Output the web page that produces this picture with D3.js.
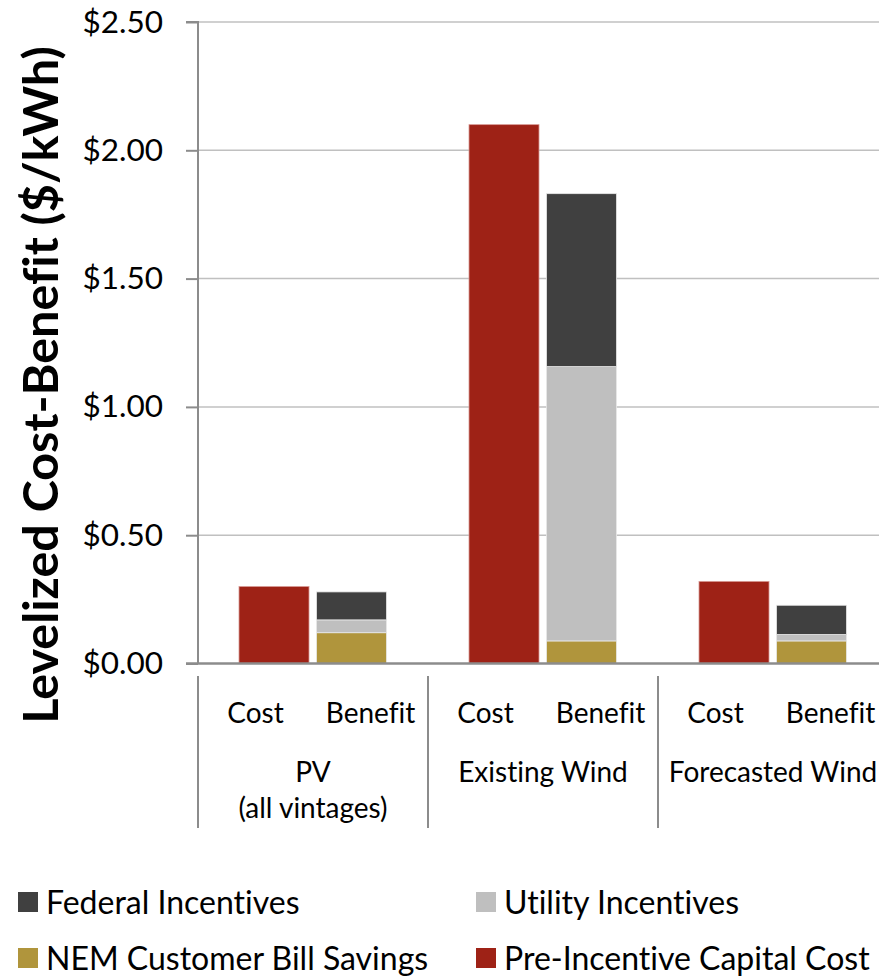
<!DOCTYPE html>
<html><head><meta charset="utf-8">
<script src="https://cdn.jsdelivr.net/npm/d3@7"></script>
<style>body{margin:0;background:#fff;}svg{display:block;font-family:Lato,"Open Sans",sans-serif;font-variant-ligatures:none;}</style>
</head><body><svg id="c" width="879" height="979"></svg>
<script>
const groups = ["PV", "Existing Wind", "Forecasted Wind"];
const groupLines = [["PV", "(all vintages)"], ["Existing Wind"], ["Forecasted Wind"]];
const subCats = ["Cost", "Benefit"];
const costValues = [0.30, 2.10, 0.32];          // Pre-Incentive Capital Cost
const nemValues = [0.120, 0.088, 0.088];        // NEM Customer Bill Savings
const utilityValues = [0.050, 1.069, 0.025];    // Utility Incentives
const federalValues = [0.109, 0.674, 0.114];    // Federal Incentives
const yTicks = [0, 0.5, 1.0, 1.5, 2.0, 2.5];
const seriesNames = ["Federal Incentives", "Utility Incentives", "NEM Customer Bill Savings", "Pre-Incentive Capital Cost"];
const colors = {"Federal Incentives":"#404040","Utility Incentives":"#bfbfbf","NEM Customer Bill Savings":"#b0953c","Pre-Incentive Capital Cost":"#9e2216"};

const svg = d3.select("#c");
const mLeft = 198, mRight = 888, mTop = 22, mBottom = 663.5;
const y = d3.scaleLinear().domain([0, 2.5]).range([mBottom, mTop]);
const xG = d3.scaleBand().domain(groups).range([mLeft, mRight]);
const xS = d3.scaleBand().domain(subCats).range([0, xG.bandwidth()]);
const barW = 70;

// gridlines
svg.append("g").selectAll("line").data(yTicks.filter(d => d > 0)).join("line")
  .attr("x1", mLeft).attr("x2", mRight).attr("y1", d => y(d)).attr("y2", d => y(d))
  .attr("stroke", "#c0c0c0").attr("stroke-width", 1.5);

// y axis
const yAxis = d3.axisLeft(y).tickValues(yTicks).tickFormat(d => "$" + d3.format(".2f")(d)).tickSize(12).tickPadding(23);
const ya = svg.append("g").attr("transform", `translate(${mLeft},0)`).call(yAxis);
ya.select(".domain").attr("stroke", "#8c8c8c").attr("stroke-width", 2).attr("d", `M-12,${mTop}H0V${mBottom}`);
ya.selectAll(".tick line").attr("stroke", "#8c8c8c").attr("stroke-width", 2);
ya.selectAll(".tick text").attr("font-size", 31.5).attr("fill", "#000").attr("font-family", "Lato");

// stacked benefit data
const stackData = groups.map((g, i) => ({group: g, "NEM Customer Bill Savings": nemValues[i], "Utility Incentives": utilityValues[i], "Federal Incentives": federalValues[i]}));
const stack = d3.stack().keys(["NEM Customer Bill Savings", "Utility Incentives", "Federal Incentives"])(stackData);

const bx = (g, s) => xG(g) + xS(s) + (xS.bandwidth() - barW) / 2 + (s === "Cost" ? 18.5 : -19);

// cost bars
svg.append("g").selectAll("rect").data(groups.map((g, i) => ({g, v: costValues[i]}))).join("rect")
  .attr("x", d => bx(d.g, "Cost")).attr("width", barW)
  .attr("y", d => y(d.v)).attr("height", d => y(0) - y(d.v))
  .attr("fill", colors["Pre-Incentive Capital Cost"]).attr("stroke", "#d89a94").attr("stroke-width", 0.8);

// benefit stacks
svg.append("g").selectAll("g").data(stack).join("g")
  .attr("fill", d => colors[d.key])
  .selectAll("rect").data(d => d).join("rect")
  .attr("x", d => bx(d.data.group, "Benefit")).attr("width", barW)
  .attr("y", d => y(d[1])).attr("height", d => y(d[0]) - y(d[1]))
  .attr("stroke", "#e8e8e8").attr("stroke-width", 0.8);

// x axis line
svg.append("line").attr("x1", 186).attr("x2", mRight).attr("y1", mBottom).attr("y2", mBottom)
  .attr("stroke", "#8c8c8c").attr("stroke-width", 2.5);

// separators
svg.append("g").selectAll("line").data(groups).join("line")
  .attr("x1", d => xG(d)).attr("x2", d => xG(d)).attr("y1", 676).attr("y2", 828)
  .attr("stroke", "#8c8c8c").attr("stroke-width", 2);

// sub labels
const sl = svg.append("g");
groups.forEach(g => subCats.forEach(s => {
  sl.append("text").attr("x", xG(g) + xS(s) + xS.bandwidth() / 2).attr("y", 723)
    .attr("text-anchor", "middle").attr("font-size", 28).text(s);
}));
// group labels
groups.forEach((g, i) => {
  groupLines[i].forEach((t, j) => {
    svg.append("text").attr("x", xG(g) + xG.bandwidth() / 2).attr("y", 782 + j * 36)
      .attr("text-anchor", "middle").attr("font-size", 28).text(t);
  });
});

// y title
svg.append("text").attr("transform", "translate(58,385) rotate(-90)")
  .attr("text-anchor", "middle").attr("font-size", 48.5).attr("font-weight", "bold")
  .text("Levelized Cost-Benefit ($/kWh)");

// legend
const legPos = [[18, 902], [476, 902], [18, 958], [476, 958]];
const lg = svg.append("g").selectAll("g").data(seriesNames).join("g")
  .attr("transform", (d, i) => `translate(${legPos[i][0]},${legPos[i][1]})`);
lg.append("rect").attr("x", 0).attr("y", -10).attr("width", 20).attr("height", 20).attr("fill", d => colors[d]);
lg.append("text").attr("x", 28).attr("y", 12).attr("font-size", 32).text(d => d);
</script></body></html>
